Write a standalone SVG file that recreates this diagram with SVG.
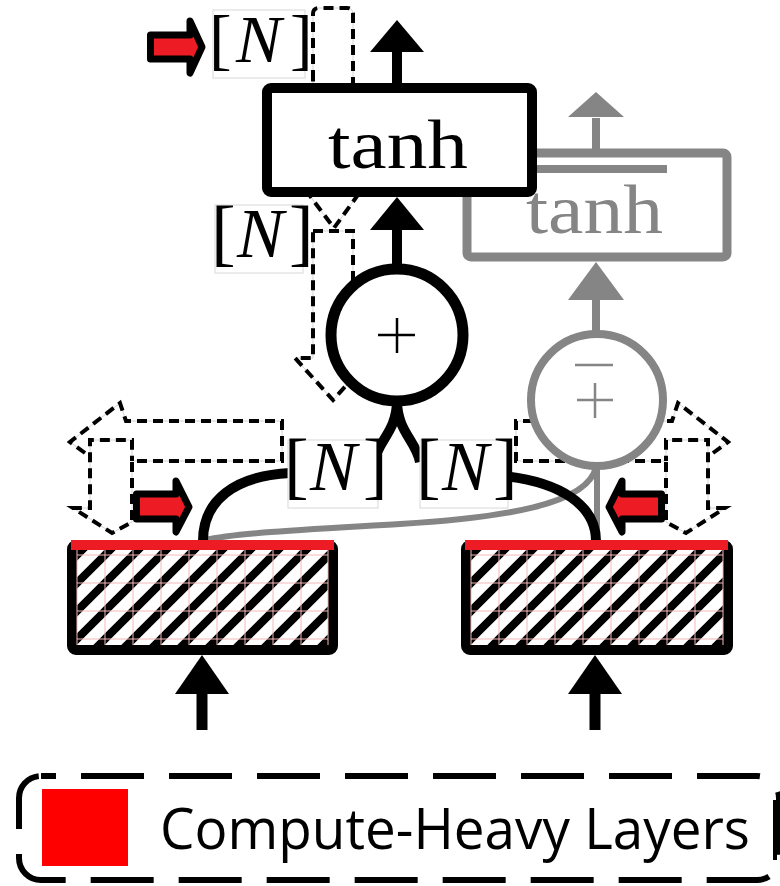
<svg xmlns="http://www.w3.org/2000/svg" xmlns:xlink="http://www.w3.org/1999/xlink" width="780" height="886" viewBox="0 0 780 886">
<style>
.dash-bg{fill:none;stroke:#d4d4d4;stroke-width:1}
.dash{fill:none;stroke:#000;stroke-width:4;stroke-dasharray:10 6}
.blk{fill:none;stroke:#000;stroke-width:10;stroke-linecap:butt}
.gry{fill:none;stroke:#858585;stroke-width:8}
.lblbox{fill:#fff;stroke:#d8d8d8;stroke-width:1}
.lbl{font-family:"Liberation Serif","DejaVu Serif",serif;font-size:74px;fill:#000}
.lbl .n{font-style:italic;font-size:70px}
.redarrow{fill:#ED1C24;stroke:#000;stroke-width:7;stroke-linejoin:round}
.grid{stroke:#f6b8b8;stroke-width:1;fill:none}
</style>
<defs>
<pattern id="hatchL" patternUnits="userSpaceOnUse" x="77" y="555" width="28" height="28">
<rect width="28" height="28" fill="#fff"/>
<path d="M-7,7 L7,-7 M0,28 L28,0 M21,35 L35,21" stroke="#000" stroke-width="8"/>
</pattern>
<pattern id="hatchR" patternUnits="userSpaceOnUse" x="471" y="555" width="28" height="28">
<rect width="28" height="28" fill="#fff"/>
<path d="M-7,7 L7,-7 M0,28 L28,0 M21,35 L35,21" stroke="#000" stroke-width="8"/>
</pattern>
<path id="sideDash" d="M85,453 L70,442 L120,403 L126,421 L282,421 L282,461 L132,461 L132,522 L112,533 L73,508 L90,508 L90,440 L132,440 L132,461"/>
</defs>

<g id="legend">
<rect x="19" y="776" width="760" height="104" rx="22" fill="none" stroke="#000" stroke-width="6" stroke-dasharray="63 25" stroke-dashoffset="-40"/>
<rect x="42" y="789" width="86" height="77" fill="#FF0000"/>
<text x="160" y="849" font-family="'Open Sans','Noto Sans','Liberation Sans',sans-serif" font-size="56" textLength="590" lengthAdjust="spacingAndGlyphs" fill="#000">Compute-Heavy Layers</text>
<rect x="773" y="800" width="4" height="60" fill="#000"/>
</g>

<g id="dashed-flows">
<use xlink:href="#sideDash" class="dash-bg"/>
<use xlink:href="#sideDash" class="dash"/>
<use xlink:href="#sideDash" class="dash-bg" transform="matrix(-1 0 0 1 798 0)"/>
<use xlink:href="#sideDash" class="dash" transform="matrix(-1 0 0 1 798 0)"/>
<path class="dash-bg" d="M313,80 L313,14 Q313,8 319,8 L347,8 Q353,8 353,14 L353,188 L363,188 L334,228 L304,188 L313,188 Z"/>
<path class="dash" d="M313,80 L313,14 Q313,8 319,8 L347,8 Q353,8 353,14 L353,188 L363,188 L334,228 L304,188 L313,188 Z"/>
<path class="dash-bg" d="M313,231 L353,231 L353,358 L371,358 L333,400 L295,358 L313,358 Z"/>
<path class="dash" d="M313,231 L353,231 L353,358 L371,358 L333,400 L295,358 L313,358 Z"/>
</g>

<g id="connectors">
<path class="gry" d="M596,118 L596,152"/>
<polygon points="568,117 624,117 596,92" fill="#858585"/>
<path class="gry" d="M596,298 L596,334"/>
<polygon points="568,300 624,300 596,262" fill="#858585"/>
<path d="M597,466 L597,541" fill="none" stroke="#858585" stroke-width="6"/>
<path d="M596,466 C590,505 500,518 400,524 C300,530 235,533 205,540" fill="none" stroke="#858585" stroke-width="6"/>
<path class="blk" d="M397,52 L397,86"/>
<polygon points="370,52 424,52 397,20" fill="#000"/>
<path class="blk" d="M397,228 L397,266"/>
<polygon points="370,230 424,230 397,197" fill="#000"/>
<path class="blk" d="M397,400 C397,432 378,440 374,462"/>
<path class="blk" d="M397,400 C397,432 416,440 420,462"/>
<path class="blk" d="M290,473 C235,476 203,500 203,541"/>
<path class="blk" d="M504,476 C560,482 596,505 596,541"/>
<path d="M202,692 L202,730" stroke="#000" stroke-width="11"/>
<polygon points="175,694 229,694 202,655" fill="#000"/>
<path d="M595,692 L595,730" stroke="#000" stroke-width="11"/>
<polygon points="568,694 622,694 595,655" fill="#000"/>
</g>

<g id="tanh_ghost">
<rect x="467" y="153" width="260" height="104" rx="4" fill="#fff" stroke="#858585" stroke-width="9"/>
<line x1="530" y1="169" x2="667" y2="169" stroke="#858585" stroke-width="8"/>
<text x="526" y="233" font-family="'Liberation Serif','DejaVu Serif',serif" font-size="70" textLength="137" lengthAdjust="spacingAndGlyphs" fill="#858585">tanh</text>
</g>

<g id="tanh_main">
<rect x="267" y="88" width="265" height="104" rx="4" fill="#fff" stroke="#000" stroke-width="10"/>
<text x="328" y="168" font-family="'Liberation Serif','DejaVu Serif',serif" font-size="70" textLength="140" lengthAdjust="spacingAndGlyphs" fill="#000">tanh</text>
</g>

<g id="add_ghost">
<circle cx="597" cy="400" r="66" fill="#fff" stroke="#858585" stroke-width="8"/>
<line x1="575" y1="365" x2="613" y2="365" stroke="#858585" stroke-width="2.5"/>
<path d="M577,400 L613,400 M595,383 L595,418" stroke="#858585" stroke-width="2.5"/>
</g>

<g id="add_main">
<circle cx="397" cy="335" r="66" fill="#fff" stroke="#000" stroke-width="11"/>
<path d="M378,335 L415,335 M397,318 L397,353" stroke="#000" stroke-width="2.5"/>
</g>

<g id="layer_left">
<rect x="72" y="545" width="261" height="105" rx="4" fill="url(#hatchL)" stroke="#000" stroke-width="10"/>
<path class="grid" d="M77,555 H328 M77,583 H328 M77,611 H328 M77,639 H328 M77,550 V645 M105,550 V645 M133,550 V645 M161,550 V645 M189,550 V645 M217,550 V645 M245,550 V645 M273,550 V645 M301,550 V645 M328,550 V645"/>
<rect x="71" y="540" width="263" height="10" fill="#ED1C24"/>
</g>

<g id="layer_right">
<rect x="466" y="545" width="262" height="105" rx="4" fill="url(#hatchR)" stroke="#000" stroke-width="10"/>
<path class="grid" d="M471,555 H723 M471,583 H723 M471,611 H723 M471,639 H723 M471,550 V645 M499,550 V645 M527,550 V645 M555,550 V645 M583,550 V645 M611,550 V645 M639,550 V645 M667,550 V645 M695,550 V645 M723,550 V645"/>
<rect x="465" y="540" width="263" height="10" fill="#ED1C24"/>
</g>

<g id="label_top">
<rect class="lblbox" x="213" y="10" width="92" height="68"/>
<text class="lbl" y="62" style="font-size:68px"><tspan x="209">[</tspan><tspan class="n" x="236" style="font-size:68px">N</tspan><tspan x="290">]</tspan></text>
</g>
<g id="label_mid">
<rect class="lblbox" x="215" y="205" width="88" height="68"/>
<text class="lbl" y="257"><tspan x="211">[</tspan><tspan class="n" x="237">N</tspan><tspan x="289">]</tspan></text>
</g>
<g id="label_left">
<rect class="lblbox" x="288" y="440" width="90" height="68"/>
<text class="lbl" y="490"><tspan x="284">[</tspan><tspan class="n" x="310">N</tspan><tspan x="363">]</tspan></text>
</g>
<g id="label_right">
<rect class="lblbox" x="420" y="440" width="88" height="68"/>
<text class="lbl" y="490"><tspan x="416">[</tspan><tspan class="n" x="442">N</tspan><tspan x="493">]</tspan></text>
</g>

<g id="red_arrows">
<polygon class="redarrow" points="150.5,35 190,35 190,21 202,47 190,73 190,59 150.5,59"/>
<polygon class="redarrow" points="136.5,494 176,494 176,481 189,507 176,532 176,519 136.5,519"/>
<polygon class="redarrow" points="661.5,494 622,494 622,481 609,507 622,532 622,519 661.5,519"/>
</g>
</svg>
